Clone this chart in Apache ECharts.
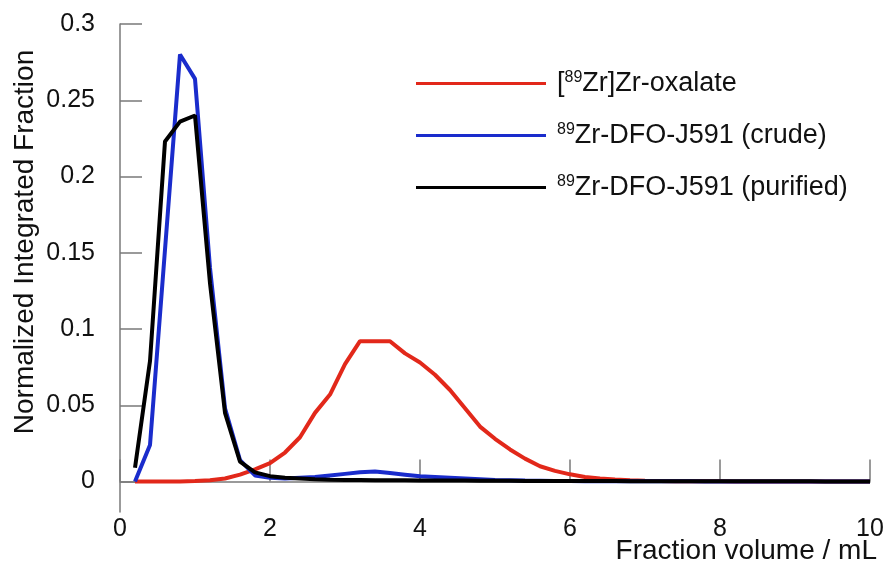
<!DOCTYPE html>
<html>
<head>
<meta charset="utf-8">
<script src="https://cdn.jsdelivr.net/npm/echarts@6/dist/echarts.min.js"></script>
<style>html,body{margin:0;padding:0;background:#fff;}#c{width:887px;height:574px;}</style>
</head>
<body>
<div id="c"></div>
<script>
const volumes = [0.2,0.4,0.6,0.8,1.0,1.2,1.4,1.6,1.8,2.0,2.2,2.4,2.6,2.8,3.0,3.2,3.4,3.6,3.8,4.0,4.2,4.4,4.6,4.8,5.0,5.2,5.4,5.6,5.8,6.0,6.2,6.4,6.6,6.8,7.0,7.2,7.4,7.6,7.8,8.0,8.2,8.4,8.6,8.8,9.0,9.2,9.4,9.6,9.8,10.0];
const oxalate = [0,0,0,0,0.0003,0.0008,0.002,0.0045,0.008,0.012,0.019,0.029,0.045,0.057,0.077,0.092,0.092,0.092,0.084,0.078,0.07,0.06,0.048,0.036,0.028,0.021,0.015,0.010,0.007,0.0047,0.003,0.002,0.0013,0.0008,0.0005,0.0003,0.0002,0.0001,0.0001,0.0001,0,0,0,0,0,0,0,0,0,0];
const crude = [0,0.024,0.152,0.280,0.264,0.14,0.048,0.014,0.004,0.0025,0.002,0.0025,0.003,0.004,0.005,0.006,0.0065,0.0055,0.0045,0.0035,0.003,0.0025,0.002,0.0015,0.001,0.0008,0.0006,0.0005,0.0004,0.0003,0.0002,0.0002,0.0002,0.0001,0.0001,0.0001,0.0001,0.0001,0,0,0,0,0,0,0,0,0,0,0,0];
const purified = [0.009,0.079,0.223,0.236,0.240,0.13,0.045,0.013,0.006,0.0035,0.0025,0.002,0.0015,0.0012,0.001,0.001,0.0009,0.0008,0.0008,0.0007,0.0007,0.0006,0.0006,0.0005,0.0005,0.0005,0.0004,0.0004,0.0004,0.0003,0.0003,0.0003,0.0003,0.0002,0.0002,0.0002,0.0002,0.0002,0.0002,0.0001,0.0001,0.0001,0.0001,0.0001,0.0001,0.0001,0,0,0,0];
const yTicks = [0,0.05,0.1,0.15,0.2,0.25,0.3];
const seriesNames = ['[89Zr]Zr-oxalate','89Zr-DFO-J591 (crude)','89Zr-DFO-J591 (purified)'];
const legendLabels = ['[{s|89}Zr]Zr-oxalate','{s|89}Zr-DFO-J591 (crude)','{s|89}Zr-DFO-J591 (purified)'];
const xTitle = 'Fraction volume / mL';
const yTitle = 'Normalized Integrated Fraction';
const colors = ['#e2281a','#1a2ccc','#000000'];
const values = [oxalate, crude, purified];

const font = 'Liberation Sans, Arial, sans-serif';
const chart = echarts.init(document.getElementById('c'), null, {renderer:'canvas'});
const axisGray = '#7a7a7a';
chart.setOption({
  animation:false,
  backgroundColor:'#ffffff',
  grid:{left:120,right:17,top:24,bottom:62,containLabel:false,outerBoundsMode:'none'},
  legend:{
    orient:'vertical', left:416, top:70, padding:0, icon:'rect', itemWidth:130, itemHeight:3, itemGap:25,
    data:seriesNames,
    formatter:function(n){return legendLabels[seriesNames.indexOf(n)];},
    textStyle:{fontFamily:font,fontSize:27,color:'#111',padding:[0,0,0,6],
      rich:{s:{fontFamily:font,fontSize:16,verticalAlign:'top',color:'#111'}}}
  },
  graphic:[{type:'text', right:10, top:537, silent:true,
    style:{text:xTitle, fontFamily:font, fontSize:28, fill:'#111'}}],
  xAxis:{
    type:'value', min:0, max:10, interval:2,
    axisLine:{show:true,lineStyle:{color:axisGray,width:1.5}},
    axisTick:{show:true,inside:true,length:22,lineStyle:{color:axisGray,width:1.5}},
    axisLabel:{fontFamily:font,fontSize:25,color:'#111',margin:5},
    splitLine:{show:false}
  },
  yAxis:{
    type:'value', min:-0.02, max:0.3,
    name:yTitle, nameLocation:'middle', nameGap:81, nameMoveOverlap:false,
    nameTextStyle:{fontFamily:font,fontSize:28,color:'#111',padding:[0,0,0,52]},
    axisLine:{show:true,lineStyle:{color:axisGray,width:1.5}},
    axisTick:{show:true,inside:true,length:22,customValues:yTicks,lineStyle:{color:axisGray,width:1.5}},
    axisLabel:{fontFamily:font,fontSize:25,color:'#111',margin:25,customValues:yTicks,
      formatter:function(v){return String(Math.round(v*100)/100);}},
    splitLine:{show:false}
  },
  series: seriesNames.map(function(n,i){
    return {name:n,type:'line',showSymbol:false,symbol:'none',
      data:volumes.map(function(x,j){return [x,values[i][j]];}),
      lineStyle:{color:colors[i],width:4},itemStyle:{color:colors[i]},z:2+i};
  })
});
</script>
</body>
</html>
